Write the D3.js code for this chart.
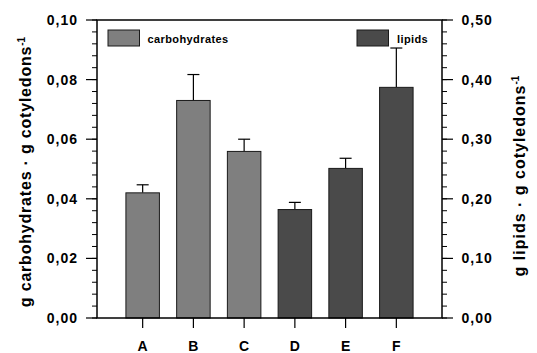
<!DOCTYPE html>
<html><head><meta charset="utf-8">
<script src="https://cdn.jsdelivr.net/npm/d3@7"></script>
<style>body{margin:0;background:#fff}svg{display:block}text{font-family:"Liberation Sans",Arial,sans-serif;font-weight:bold;fill:#000}</style>
</head><body>
<script>
const categories = ["A","B","C","D","E","F"];
const carbCats = ["A","B","C"];
const carbValues = [0.0420, 0.0730, 0.0559];
const carbErrors = [0.0027, 0.0087, 0.0041];
const lipidCats = ["D","E","F"];
const lipidValues = [0.182, 0.251, 0.387];
const lipidErrors = [0.012, 0.017, 0.066];
const leftTicks = [0, 0.02, 0.04, 0.06, 0.08, 0.10];
const rightTicks = [0, 0.10, 0.20, 0.30, 0.40, 0.50];

const W = 537, H = 353;
const m = {l: 97, r: 442, t: 20, b: 318};
const svg = d3.select("body").append("svg").attr("width", W).attr("height", H);

const x = d3.scalePoint().domain(categories).range([m.l, m.r]).padding(0.9);
const yL = d3.scaleLinear().domain([0, 0.10]).range([m.b, m.t]);
const yR = d3.scaleLinear().domain([0, 0.50]).range([m.b, m.t]);
const bw = 33.5;
const fmt = v => d3.format(".2f")(v).replace(".", ",");

const carb = carbCats.map((c, i) => ({c, v: carbValues[i], e: carbErrors[i]}));
const lip = lipidCats.map((c, i) => ({c, v: lipidValues[i], e: lipidErrors[i]}));

function drawBars(data, y, fill) {
  const g = svg.append("g");
  g.selectAll("line.stem").data(data).join("line")
    .attr("x1", d => x(d.c)).attr("x2", d => x(d.c))
    .attr("y1", d => y(d.v)).attr("y2", d => y(d.v + d.e))
    .attr("stroke", "#000").attr("stroke-width", 1.2);
  g.selectAll("line.cap").data(data).join("line")
    .attr("x1", d => x(d.c) - 6).attr("x2", d => x(d.c) + 6)
    .attr("y1", d => y(d.v + d.e)).attr("y2", d => y(d.v + d.e))
    .attr("stroke", "#000").attr("stroke-width", 1.2);
  g.selectAll("rect").data(data).join("rect")
    .attr("x", d => x(d.c) - bw / 2).attr("width", bw)
    .attr("y", d => y(d.v)).attr("height", d => y(0) - y(d.v))
    .attr("fill", fill).attr("stroke", "#1a1a1a").attr("stroke-width", 1);
}
drawBars(carb, yL, "#7f7f7f");
drawBars(lip, yR, "#4a4a4a");

// frame
svg.append("rect").attr("x", m.l).attr("y", m.t).attr("width", m.r - m.l).attr("height", m.b - m.t)
  .attr("fill", "none").attr("stroke", "#000").attr("stroke-width", 1.5);

// left axis
const minorL = d3.range(0, 0.1001, 0.004);
const gl = svg.append("g");
gl.selectAll("line").data(minorL).join("line")
  .attr("x1", m.l - 5).attr("x2", m.l).attr("y1", d => yL(d)).attr("y2", d => yL(d))
  .attr("stroke", "#000").attr("stroke-width", 1);
gl.selectAll("line.maj").data(leftTicks).join("line").attr("class", "maj")
  .attr("x1", m.l - 11).attr("x2", m.l).attr("y1", d => yL(d)).attr("y2", d => yL(d))
  .attr("stroke", "#000").attr("stroke-width", 1.2);
gl.selectAll("text").data(leftTicks).join("text")
  .attr("x", 78).attr("y", d => yL(d)).attr("dy", "0.36em").attr("text-anchor", "end")
  .attr("font-size", 14).attr("letter-spacing", 1).text(fmt);

// right axis
const minorR = d3.range(0, 0.5001, 0.02);
const gr = svg.append("g");
gr.selectAll("line").data(minorR).join("line")
  .attr("x1", m.r).attr("x2", m.r + 5).attr("y1", d => yR(d)).attr("y2", d => yR(d))
  .attr("stroke", "#000").attr("stroke-width", 1);
gr.selectAll("line.maj").data(rightTicks).join("line").attr("class", "maj")
  .attr("x1", m.r).attr("x2", m.r + 11).attr("y1", d => yR(d)).attr("y2", d => yR(d))
  .attr("stroke", "#000").attr("stroke-width", 1.2);
gr.selectAll("text").data(rightTicks).join("text")
  .attr("x", 461.5).attr("y", d => yR(d)).attr("dy", "0.36em").attr("text-anchor", "start")
  .attr("font-size", 14).attr("letter-spacing", 1).text(fmt);

// x axis
const gx = svg.append("g");
gx.selectAll("line").data(categories).join("line")
  .attr("x1", d => x(d)).attr("x2", d => x(d)).attr("y1", m.b).attr("y2", m.b + 10)
  .attr("stroke", "#000").attr("stroke-width", 1.2);
gx.selectAll("text").data(categories).join("text")
  .attr("x", d => x(d)).attr("y", 351).attr("text-anchor", "middle")
  .attr("font-size", 14).text(d => d);

// axis titles
const tl = svg.append("text").attr("transform", "translate(31,172) rotate(-90)")
  .attr("text-anchor", "middle").attr("font-size", 16).attr("letter-spacing", 0.8);
tl.append("tspan").text("g carbohydrates  \u00b7 g cotyledons");
tl.append("tspan").attr("dy", -6).attr("font-size", 10).attr("letter-spacing", 0).text("-1");
const tr = svg.append("text").attr("transform", "translate(525,176) rotate(-90)")
  .attr("text-anchor", "middle").attr("font-size", 16).attr("letter-spacing", 1.0);
tr.append("tspan").text("g lipids \u00b7 g cotyledons");
tr.append("tspan").attr("dy", -6).attr("font-size", 10).attr("letter-spacing", 0).text("-1");

// legends
svg.append("rect").attr("x", 108).attr("y", 30).attr("width", 31.5).attr("height", 16)
  .attr("fill", "#7f7f7f").attr("stroke", "#1a1a1a").attr("stroke-width", 1);
svg.append("text").attr("x", 147.5).attr("y", 43).attr("font-size", 11).attr("letter-spacing", 0.4).text("carbohydrates");
svg.append("rect").attr("x", 357).attr("y", 30).attr("width", 31.5).attr("height", 16)
  .attr("fill", "#4a4a4a").attr("stroke", "#1a1a1a").attr("stroke-width", 1);
svg.append("text").attr("x", 397).attr("y", 43).attr("font-size", 11).attr("letter-spacing", 0.4).text("lipids");
</script>
</body></html>
